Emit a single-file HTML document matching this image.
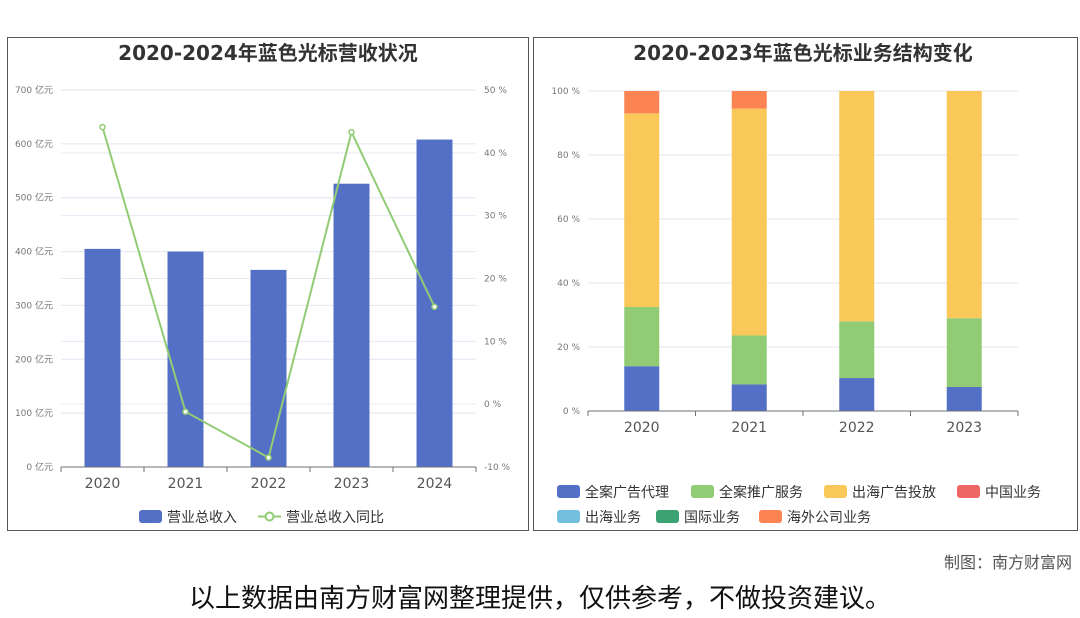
<!DOCTYPE html>
<html><head><meta charset="utf-8">
<style>
body{margin:0;width:1080px;height:614px;background:#fff;overflow:hidden;font-family:"DejaVu Sans","Noto Sans CJK SC",sans-serif;}
svg text{font-family:"DejaVu Sans","Noto Sans CJK SC",sans-serif;}
</style></head><body>
<svg id="s" width="1080" height="614">
<rect x="7.5" y="37.5" width="521" height="493" fill="none" stroke="#555"/>
<rect x="533.5" y="37.5" width="544" height="493" fill="none" stroke="#555"/>
<text x="268" y="60" text-anchor="middle" font-size="20" font-weight="bold" fill="#333">2020-2024年蓝色光标营收状况</text>
<text x="803" y="60" text-anchor="middle" font-size="20" font-weight="bold" fill="#333">2020-2023年蓝色光标业务结构变化</text>
<g id="L"></g><g id="R"></g>
<text x="1072" y="568" text-anchor="end" font-size="16" fill="#555">制图：南方财富网</text>
<text x="540" y="607" text-anchor="middle" font-size="26" fill="#111">以上数据由南方财富网整理提供，仅供参考，不做投资建议。</text>
</svg>
<script>
const years = ["2020","2021","2022","2023","2024"];
const revenue = [405, 400, 366, 526, 608];
const growth = [44.1, -1.2, -8.5, 43.3, 15.5];
const leftTicks = [0,100,200,300,400,500,600,700];
const rightTicks = [-10,0,10,20,30,40,50];
const years2 = ["2020","2021","2022","2023"];
const seriesNames = ["全案广告代理","全案推广服务","出海广告投放","中国业务","出海业务","国际业务","海外公司业务"];
const seriesColors = ["#5470c6","#91cc75","#fac858","#ee6666","#73c0de","#3ba272","#fc8452"];
const s0 = [14, 8.3, 10.3, 7.5];
const s1 = [18.5, 15.3, 17.7, 21.5];
const s2 = [60.5, 70.9, 72, 71];
const s3 = [0,0,0,0];
const s4 = [0,0,0,0];
const s5 = [0,0,0,0];
const s6 = [7, 5.5, 0, 0];
const pctTicks = [0,20,40,60,80,100];
const NS="http://www.w3.org/2000/svg";
function mk(p,t,a,txt){const e=document.createElementNS(NS,t);for(const k in a)e.setAttribute(k,a[k]);if(txt!=null)e.textContent=txt;p.appendChild(e);return e;}
const L=document.getElementById('L');
const x0=61,x1=476,yT=90,yB=467;
const yL=v=>yB-(v/700)*(yB-yT);
const yR=v=>yB-((v+10)/60)*(yB-yT);
const bw=(x1-x0)/years.length;
const xc=i=>x0+bw*(i+0.5);
rightTicks.forEach(t=>{const g=mk(L,'line',{x1:x0,x2:x1,y1:yR(t),y2:yR(t),stroke:'#e6e9f4'});

const e=mk(L,'text',{x:484,y:yR(t)+3,'font-size':9,fill:'#777'},t+' %');
});
leftTicks.forEach(t=>{const g=mk(L,'line',{x1:x0,x2:x1,y1:yL(t),y2:yL(t),stroke:'#e0e6f1'});

const e=mk(L,'text',{x:53,y:yL(t)+3,'font-size':9,fill:'#777','text-anchor':'end'},t+' 亿元');
});
revenue.forEach((v,i)=>{const r=mk(L,'rect',{x:xc(i)-18,y:yL(v),width:36,height:yB-yL(v),fill:'#5470c6'});
});
mk(L,'line',{x1:x0,x2:x1,y1:yB,y2:yB,stroke:'#6e7079'});
years.forEach((y,i)=>{mk(L,'line',{x1:x0+bw*i,x2:x0+bw*i,y1:yB,y2:yB+5,stroke:'#6e7079'});
const e=mk(L,'text',{x:xc(i),y:488,'font-size':14,fill:'#555','text-anchor':'middle'},y);
});
mk(L,'line',{x1:x1,x2:x1,y1:yB,y2:yB+5,stroke:'#6e7079'});
const pl=mk(L,'polyline',{points:growth.map((v,i)=>xc(i)+','+yR(v)).join(' '),fill:'none',stroke:'#91cc75','stroke-width':2});

growth.forEach((v,i)=>{const c=mk(L,'circle',{cx:xc(i),cy:yR(v),r:2.5,fill:'#fff',stroke:'#91cc75','stroke-width':1.5});
});
let lg=mk(L,'rect',{x:139,y:510,width:23,height:13,rx:3,fill:'#5470c6'});

mk(L,'text',{x:167,y:522,'font-size':14,fill:'#333'},'营业总收入');
lg=mk(L,'line',{x1:258,x2:281,y1:516.5,y2:516.5,stroke:'#91cc75','stroke-width':2});

mk(L,'circle',{cx:269.5,cy:516.5,r:4,fill:'#fff',stroke:'#91cc75','stroke-width':2});
mk(L,'text',{x:286,y:522,'font-size':14,fill:'#333'},'营业总收入同比');
const R=document.getElementById('R');
const rx0=588,rx1=1018,rT=91,rB=411;
const yP=v=>rB-(v/100)*(rB-rT);
const rbw=(rx1-rx0)/years2.length;
const rxc=i=>rx0+rbw*(i+0.5);
pctTicks.forEach(t=>{const g=mk(R,'line',{x1:rx0,x2:rx1,y1:yP(t),y2:yP(t),stroke:'#e0e6f1'});

const e=mk(R,'text',{x:580,y:yP(t)+3,'font-size':9,fill:'#777','text-anchor':'end'},t+' %');
});
const all=[s0,s1,s2,s3,s4,s5,s6];
years2.forEach((y,i)=>{let acc=0;all.forEach((s,k)=>{const v=s[i];if(v>0){
const r=mk(R,'rect',{x:rxc(i)-17.5,y:yP(acc+v),width:35,height:yP(acc)-yP(acc+v),fill:seriesColors[k]});
}acc+=v;});});
mk(R,'line',{x1:rx0,x2:rx1,y1:rB,y2:rB,stroke:'#6e7079'});
years2.forEach((y,i)=>{mk(R,'line',{x1:rx0+rbw*i,x2:rx0+rbw*i,y1:rB,y2:rB+5,stroke:'#6e7079'});
const e=mk(R,'text',{x:rxc(i),y:432,'font-size':14,fill:'#555','text-anchor':'middle'},y);
});
mk(R,'line',{x1:rx1,x2:rx1,y1:rB,y2:rB+5,stroke:'#6e7079'});
const lx=[557,691,824,957,557,656,759],ly=[491,491,491,491,516,516,516];
seriesNames.forEach((n,k)=>{const r=mk(R,'rect',{x:lx[k],y:ly[k]-6,width:23,height:13,rx:3,fill:seriesColors[k]});

mk(R,'text',{x:lx[k]+28,y:ly[k]+6,'font-size':14,fill:'#333'},n);});
</script>
</body></html>
